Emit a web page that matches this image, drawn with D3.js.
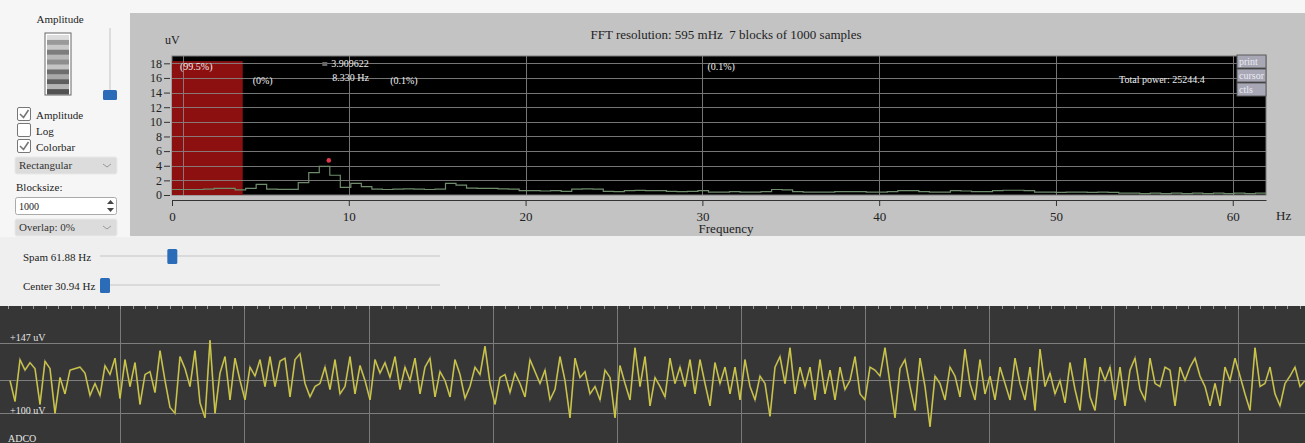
<!DOCTYPE html>
<html><head><meta charset="utf-8">
<script src="https://cdn.jsdelivr.net/npm/d3@7"></script>
<style>
body{margin:0;background:#f1f1f1;overflow:hidden}
svg{display:block;font-family:"Liberation Serif","Times New Roman",serif}
</style>
</head><body>
<svg id="c" width="1305" height="443"></svg>
<script>
// ---------- DATA ----------
const titleText = "FFT resolution: 595 mHz  7 blocks of 1000 samples";
const binHz = 0.595;
const spanHz = 61.88;
const centerHz = 30.94;
const spectrumUv = [0.75,0.75,0.75,0.8,0.9,0.9,0.7,0.9,1.45,0.8,0.78,0.78,1.7,3.05,3.909622,2.7,1.05,1.6,1.15,0.8,
  0.75,0.8,0.85,0.8,0.75,0.8,1.6,1.35,0.95,0.9,0.9,0.85,0.8,0.6,0.6,0.55,0.6,0.5,0.8,0.85,
  0.8,0.5,0.45,0.6,0.62,0.6,0.6,0.5,0.45,0.5,0.6,0.4,0.4,0.45,0.4,0.4,0.45,0.75,0.7,0.45,
  0.4,0.4,0.4,0.45,0.45,0.45,0.4,0.4,0.45,0.6,0.6,0.45,0.4,0.4,0.6,0.55,0.45,0.45,0.6,0.65,
  0.65,0.6,0.4,0.4,0.35,0.4,0.4,0.35,0.4,0.35,0.25,0.25,0.2,0.25,0.2,0.25,0.2,0.25,0.2,0.25,
  0.2,0.25,0.2,0.25];
const peakUv = 3.909622;
const peakHz = 8.330;
const bandStartHz = [0, 4, 12, 30];
const bandPct = ["(99.5%)", "(0%)", "(0.1%)", "(0.1%)"];
const deltaBandHz = [0, 4];
const deltaBandUv = 18.3;
const totalPower = 25244.4;
const yTicks = [0,2,4,6,8,10,12,14,16,18];
const xTicks = [0,10,20,30,40,50,60];
const buttons = ["print", "cursor", "ctls"];
const colorbarGrays = ["#dcdcdc","#9a9a9a","#c9c9c9","#7d7d7d","#b9b9b9","#8e8e8e","#c4c4c4","#6e6e6e","#a9a9a9","#5e5e5e","#b4b4b4","#525252"];
const traceUv = [122,108,136,129,134,130,106,135,130,100,124,113,129,130,131,127,112,120,112,132,
  126,137,110,136,118,134,106,126,128,114,142,122,104,100,138,130,118,142,107,97,
  149,100,127,138,109,137,122,109,131,125,136,118,138,118,135,137,111,136,140,120,
  111,118,120,131,116,136,113,118,138,113,132,122,109,136,127,134,124,138,116,131,
  122,137,113,131,137,111,128,122,111,136,126,110,118,131,126,145,120,106,124,126,
  114,127,120,111,136,128,120,129,109,116,138,122,97,137,124,128,113,118,109,129,
  124,97,132,120,109,144,118,138,105,124,118,111,137,120,131,118,136,113,136,120,
  105,134,120,131,113,131,109,136,118,109,125,120,98,131,138,120,144,113,131,118,
  131,109,136,113,129,109,131,116,122,138,113,109,131,129,125,144,120,97,130,136,
  118,102,137,118,91,125,120,109,131,125,111,143,120,109,136,113,125,109,131,120,
  109,137,120,109,131,102,143,118,127,113,122,107,134,116,102,137,111,102,131,122,
  131,109,131,105,129,137,116,109,137,120,118,131,129,105,131,122,131,137,125,118,
  105,120,105,131,122,137,125,113,102,144,118,120,131,113,105,120,125,131,118,122];
const traceTopUv = 147, traceBottomUv = 100, traceMidUv = 122.5;
const traceSeconds = 10.55;

// ---------- DRAW ----------
const svg = d3.select("#c");
const serif = '"Liberation Serif","Times New Roman",serif';

svg.append("rect").attr("x",0).attr("y",0).attr("width",1305).attr("height",443).attr("fill","#efefef");
svg.append("rect").attr("x",0).attr("y",0).attr("width",1305).attr("height",13).attr("fill","#f6f6f6");
svg.append("rect").attr("x",0).attr("y",0).attr("width",130).attr("height",237).attr("fill","#f6f6f6");
svg.append("rect").attr("x",130).attr("y",13).attr("width",1175).attr("height",223).attr("fill","#c3c3c3");

// ----- FFT plot -----
const x = d3.scaleLinear().domain([0, spanHz]).range([172, 1266]);
const y = d3.scaleLinear().domain([0, 19]).range([195, 56]);

svg.append("text").attr("x",726).attr("y",39).attr("text-anchor","middle")
  .attr("font-size",13).attr("fill","#222").style("white-space","pre").text(titleText);
svg.append("text").attr("x",165).attr("y",44).attr("font-size",12).attr("fill","#222").text("uV");

svg.append("rect").attr("x",x(0)).attr("y",y(19)).attr("width",x(spanHz)-x(0)).attr("height",y(0)-y(19))
  .attr("fill","#000").attr("stroke","#7a7a7a");

svg.append("rect").attr("x",x(deltaBandHz[0])).attr("y",y(deltaBandUv))
  .attr("width",x(deltaBandHz[1])-x(deltaBandHz[0])).attr("height",y(0)-y(deltaBandUv))
  .attr("fill","#8c1010");

const grid = svg.append("g").attr("stroke","#8a8a8a").attr("stroke-width",1).attr("opacity",0.85);
yTicks.filter(d=>d>0).forEach(d=>{
  grid.append("line").attr("x1",x(0)).attr("x2",x(spanHz)).attr("y1",Math.round(y(d))+0.5).attr("y2",Math.round(y(d))+0.5);
});
xTicks.filter(d=>d>0).concat([binHz]).forEach(d=>{
  grid.append("line").attr("x1",Math.round(x(d))+0.5).attr("x2",Math.round(x(d))+0.5).attr("y1",y(19)).attr("y2",y(0));
});

const specPts = spectrumUv.map((v,i)=>[i*binHz, v]);
specPts.push([spectrumUv.length*binHz, spectrumUv[spectrumUv.length-1]]);
svg.append("path").datum(specPts)
  .attr("d", d3.line().x(d=>x(Math.min(d[0],spanHz))).y(d=>y(d[1])).curve(d3.curveStepAfter))
  .attr("fill","none").attr("stroke","#6f8c6c").attr("stroke-width",1.2);

// peak marker
const px = x(peakHz + binHz) - 1;
svg.append("circle").attr("cx",px).attr("cy",y(peakUv)-6).attr("r",2.3).attr("fill","#e03a4a");
svg.append("rect").attr("x",x(peakHz)+3).attr("y",62).attr("width",5).attr("height",4).attr("fill","#666");
svg.append("text").attr("x",x(peakHz)+12).attr("y",67).attr("font-size",10).attr("fill","#eee").text(peakUv.toFixed(6));
svg.append("text").attr("x",x(peakHz)+13).attr("y",81).attr("font-size",10).attr("fill","#eee").text(peakHz.toFixed(3)+" Hz");

// band labels
const bandRowY = [70, 84, 84, 70];
const bandDx = [8, 10, 6, 5];
bandStartHz.forEach((b,i)=>{
  svg.append("text").attr("x",x(b)+bandDx[i]).attr("y",bandRowY[i]).attr("font-size",10).attr("fill","#eee").text(bandPct[i]);
});
svg.append("text").attr("x",1119).attr("y",83).attr("font-size",10).attr("fill","#eee").text("Total power: "+totalPower);

// buttons
buttons.forEach((b,i)=>{
  const by = 55 + i*14;
  svg.append("rect").attr("x",1237).attr("y",by).attr("width",29).attr("height",13)
    .attr("fill","#a7a7b6").attr("stroke","#5a5a5a");
  svg.append("text").attr("x",1239).attr("y",by+10).attr("font-size",10).attr("fill","#ececf2").text(b);
});

// axes
const yAxis = svg.append("g").attr("transform","translate(170,0)")
  .call(d3.axisLeft(y).tickValues(yTicks).tickSize(6).tickPadding(2));
yAxis.select(".domain").remove();
const xAxis = svg.append("g").attr("transform","translate(0,200)")
  .call(d3.axisBottom(x).tickValues(xTicks).tickSize(6).tickPadding(6).tickSizeOuter(0));
[yAxis, xAxis].forEach(a=>{
  a.attr("font-family",serif).attr("font-size",12);
  a.selectAll("line").attr("stroke","#333");
  a.selectAll("path").attr("stroke","#333");
  a.selectAll("text").attr("fill","#222");
});
xAxis.selectAll("text").attr("font-size",13);
svg.append("text").attr("x",1276).attr("y",220).attr("font-size",13).attr("fill","#222").text("Hz");
svg.append("text").attr("x",726).attr("y",233).attr("text-anchor","middle").attr("font-size",13).attr("fill","#222").text("Frequency");

// ----- left panel -----
svg.append("text").attr("x",60).attr("y",23).attr("text-anchor","middle").attr("font-size",11).attr("fill","#222").text("Amplitude");
const cb = d3.scaleBand().domain(d3.range(colorbarGrays.length)).range([35,94]);
svg.append("rect").attr("x",45).attr("y",33).attr("width",26).attr("height",62).attr("fill","#fff").attr("stroke","#666");
colorbarGrays.forEach((c,i)=>{
  svg.append("rect").attr("x",47).attr("y",cb(i)).attr("width",22).attr("height",cb.bandwidth()+0.5).attr("fill",c);
});
svg.append("line").attr("x1",110).attr("x2",110).attr("y1",28).attr("y2",98).attr("stroke","#ddd").attr("stroke-width",2);
svg.append("rect").attr("x",103).attr("y",90).attr("width",14).attr("height",10).attr("rx",1.5).attr("fill","#2b6cb8");

const checks = [["Amplitude",true,107],["Log",false,123],["Colorbar",true,139]];
checks.forEach(([t,on,cy])=>{
  svg.append("rect").attr("x",17.5).attr("y",cy+0.5).attr("width",13).attr("height",13).attr("rx",1.5)
    .attr("fill","#fff").attr("stroke","#777");
  if(on) svg.append("path").attr("d",`M20,${cy+7} L23.5,${cy+10.5} L28.5,${cy+3}`).attr("fill","none").attr("stroke","#777").attr("stroke-width",1.6);
  svg.append("text").attr("x",36).attr("y",cy+12).attr("font-size",11).attr("fill","#222").text(t);
});
function selectBox(yy, label){
  svg.append("rect").attr("x",15).attr("y",yy).attr("width",102).attr("height",17).attr("rx",2).attr("fill","#dcdcdc").attr("stroke","#e8e8e8");
  svg.append("text").attr("x",19).attr("y",yy+12).attr("font-size",11).attr("fill","#333").text(label);
  svg.append("path").attr("d",`M103,${yy+7} L107,${yy+10} L111,${yy+7}`).attr("fill","none").attr("stroke","#999").attr("stroke-width",1);
}
selectBox(157,"Rectangular");
svg.append("text").attr("x",16).attr("y",191).attr("font-size",11).attr("fill","#222").text("Blocksize:");
svg.append("rect").attr("x",15.5).attr("y",197.5).attr("width",101).attr("height",17).attr("rx",2).attr("fill","#fff").attr("stroke","#aaa");
svg.append("text").attr("x",19).attr("y",210).attr("font-size",10).attr("fill","#222").text("1000");
svg.append("path").attr("d","M107,204 L110.5,200 L114,204 Z M107,208 L110.5,212 L114,208 Z").attr("fill","#444");
selectBox(219,"Overlap: 0%");

// ----- sliders -----
svg.append("text").attr("x",23).attr("y",261).attr("font-size",11).attr("fill","#222").text("Spam "+spanHz+" Hz");
svg.append("line").attr("x1",100).attr("x2",440).attr("y1",256).attr("y2",256).attr("stroke","#dadada").attr("stroke-width",2);
const spanSlider = d3.scaleLinear().domain([0, 400]).range([100, 440]);
svg.append("rect").attr("x",spanSlider(spanHz*1.28)).attr("y",249).attr("width",10).attr("height",15).attr("rx",1.5).attr("fill","#2b6cb8");
svg.append("text").attr("x",23).attr("y",290).attr("font-size",11).attr("fill","#222").text("Center "+centerHz+" Hz");
svg.append("line").attr("x1",110).attr("x2",440).attr("y1",285).attr("y2",285).attr("stroke","#dadada").attr("stroke-width",2);
const centerSlider = d3.scaleLinear().domain([centerHz, 500]).range([100, 440]);
svg.append("rect").attr("x",centerSlider(centerHz)).attr("y",278).attr("width",10).attr("height",15).attr("rx",1.5).attr("fill","#2b6cb8");

// ----- waveform -----
const wTop = 306;
svg.append("rect").attr("x",0).attr("y",wTop).attr("width",1305).attr("height",443-wTop).attr("fill","#363636");
const t = d3.scaleLinear().domain([0, traceSeconds]).range([-4, 1306]);
const wy = d3.scaleLinear().domain([traceBottomUv, traceTopUv]).range([413.3, 343.3]);
const wg = svg.append("g");
d3.range(1, 11).forEach(s=>{
  wg.append("line").attr("x1",Math.round(t(s))+0.5).attr("x2",Math.round(t(s))+0.5).attr("y1",wTop).attr("y2",443).attr("stroke","#7a7a7a");
});
d3.range(1, 106).forEach(k=>{
  const xx = Math.round(t(k/10))+0.5;
  wg.append("line").attr("x1",xx).attr("x2",xx).attr("y1",wTop).attr("y2",wTop+3).attr("stroke","#9a9a9a");
});
[traceTopUv, traceMidUv, traceBottomUv].forEach(v=>{
  wg.append("line").attr("x1",0).attr("x2",1305).attr("y1",Math.round(wy(v))+0.5).attr("y2",Math.round(wy(v))+0.5).attr("stroke","#7e7e7e");
});
const ti = d3.scaleLinear().domain([0, traceUv.length-1]).range([10, 1305]);
const wline = d3.line().x((d,i)=>ti(i)).y(d=>wy(d));
svg.append("path").datum(traceUv).attr("d",wline).attr("fill","none").attr("stroke","#8f8c5a").attr("stroke-width",1.8);
svg.append("path").datum(traceUv).attr("d",wline).attr("fill","none").attr("stroke","#dcd53a").attr("stroke-width",0.9);

svg.append("text").attr("x",10).attr("y",341).attr("font-size",10).attr("fill","#e6e6e6").text("+"+traceTopUv+" uV");
svg.append("text").attr("x",10).attr("y",414).attr("font-size",10).attr("fill","#e6e6e6").text("+"+traceBottomUv+" uV");
svg.append("text").attr("x",8).attr("y",442).attr("font-size",10).attr("fill","#e6e6e6").text("ADCO");
</script>
</body></html>
